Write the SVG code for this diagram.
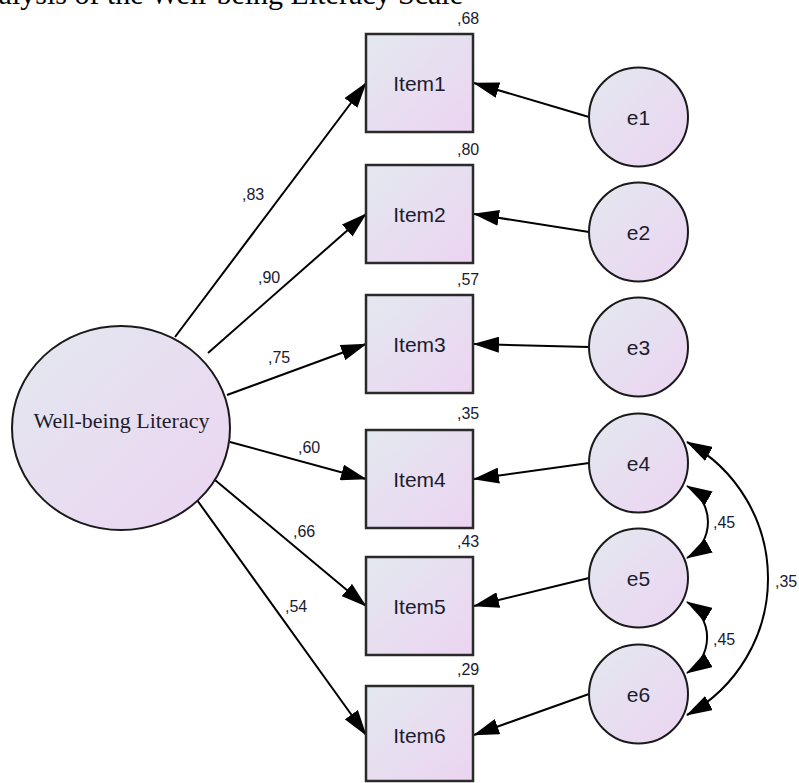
<svg xmlns="http://www.w3.org/2000/svg" width="799" height="783" viewBox="0 0 799 783">
<defs>
<linearGradient id="fill" x1="0" y1="0" x2="1" y2="1">
<stop offset="0" stop-color="#e3e8ef"/>
<stop offset="1" stop-color="#ecd4f2"/>
</linearGradient>
<marker id="ah" markerUnits="userSpaceOnUse" markerWidth="26" markerHeight="16" viewBox="0 0 26 16" refX="25" refY="8" orient="auto-start-reverse">
<path d="M0,0 L26,8 L0,16 z" fill="#000"/>
</marker>
<style>
.box{fill:url(#fill);stroke:#2a2a2a;stroke-width:2.5}
.circ{fill:url(#fill);stroke:#1a1a1a;stroke-width:2}
.lbl{font-family:"Liberation Sans",Arial,sans-serif;font-size:21px;fill:#1c1c2c;text-anchor:middle}
.num{font-family:"Liberation Sans",Arial,sans-serif;font-size:16px;fill:#1a1a33}
.edge{stroke:#000;stroke-width:2;fill:none;marker-end:url(#ah)}
.cov{stroke:#000;stroke-width:2;fill:none;marker-start:url(#ah);marker-end:url(#ah)}
</style>
</defs>
<rect width="799" height="783" fill="#fff"/>
<text x="463" y="4" font-family="'Liberation Serif','Times New Roman',serif" font-size="30" text-anchor="end" fill="#000">Analysis of the Well-being Literacy Scale</text>

<g id="connectors">
<path class="edge" d="M175,337 L366,83"/>
<path class="edge" d="M208,353 L366,214"/>
<path class="edge" d="M227,395 L366,344"/>
<path class="edge" d="M230,442 L366,479"/>
<path class="edge" d="M215,480 L366,606"/>
<path class="edge" d="M197,500 L366,735"/>
<path class="edge" d="M589,117 L474,83"/>
<path class="edge" d="M589,232 L474,214"/>
<path class="edge" d="M589,347 L474,344"/>
<path class="edge" d="M589,463 L474,479"/>
<path class="edge" d="M589,578 L474,606"/>
<path class="edge" d="M589,694 L474,735"/>
<path class="cov" d="M687,486 A41.4,41.4 0 0 1 687,558"/>
<path class="cov" d="M687,602 A41.4,41.4 0 0 1 687,673"/>
<path class="cov" d="M687,442 A155.5,155.5 0 0 1 687,715"/>
<text class="num" x="242" y="200">,83</text>
<text class="num" x="258" y="283">,90</text>
<text class="num" x="268" y="363">,75</text>
<text class="num" x="298" y="453">,60</text>
<text class="num" x="293" y="537">,66</text>
<text class="num" x="285" y="612">,54</text>
<text class="num" x="713" y="528">,45</text>
<text class="num" x="713" y="645">,45</text>
<text class="num" x="775" y="587">,35</text>
</g>

<g id="wbl">
<ellipse class="circ" cx="121" cy="428" rx="109" ry="102"/>
<text x="121.5" y="428" font-family="'Liberation Serif','Times New Roman',serif" font-size="22" text-anchor="middle" fill="#1c1c2c">Well-being Literacy</text>
</g>

<g id="item1"><rect class="box" x="366" y="34" width="107" height="98"/><text class="lbl" x="419.5" y="91">Item1</text><text class="num" x="457" y="24">,68</text></g>
<g id="item2"><rect class="box" x="366" y="165" width="107" height="98"/><text class="lbl" x="419.5" y="222">Item2</text><text class="num" x="457" y="155">,80</text></g>
<g id="item3"><rect class="box" x="366" y="295" width="107" height="98"/><text class="lbl" x="419.5" y="352">Item3</text><text class="num" x="457" y="285">,57</text></g>
<g id="item4"><rect class="box" x="366" y="430" width="107" height="98"/><text class="lbl" x="419.5" y="487">Item4</text><text class="num" x="457" y="419">,35</text></g>
<g id="item5"><rect class="box" x="366" y="557" width="107" height="98"/><text class="lbl" x="419.5" y="614">Item5</text><text class="num" x="457" y="547">,43</text></g>
<g id="item6"><rect class="box" x="366" y="686" width="107" height="95"/><text class="lbl" x="419.5" y="743">Item6</text><text class="num" x="457" y="675">,29</text></g>

<g id="e1"><circle class="circ" cx="638.5" cy="117" r="49.5"/><text class="lbl" x="638.5" y="125">e1</text></g>
<g id="e2"><circle class="circ" cx="638.5" cy="232" r="49.5"/><text class="lbl" x="638.5" y="240">e2</text></g>
<g id="e3"><circle class="circ" cx="638.5" cy="347" r="49.5"/><text class="lbl" x="638.5" y="355">e3</text></g>
<g id="e4"><circle class="circ" cx="638.5" cy="463" r="49.5"/><text class="lbl" x="638.5" y="471">e4</text></g>
<g id="e5"><circle class="circ" cx="638.5" cy="578" r="49.5"/><text class="lbl" x="638.5" y="586">e5</text></g>
<g id="e6"><circle class="circ" cx="638.5" cy="694" r="49.5"/><text class="lbl" x="638.5" y="702">e6</text></g>
</svg>
